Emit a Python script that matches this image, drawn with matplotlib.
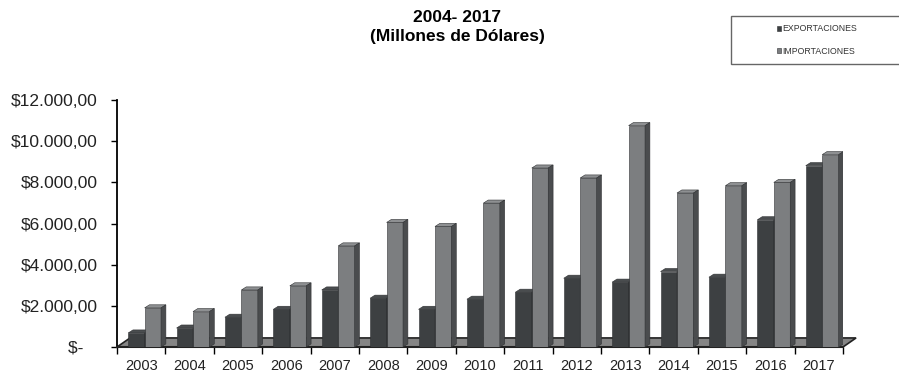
import matplotlib.pyplot as plt
from matplotlib.patches import Polygon, Rectangle

plt.rcParams["font.family"] = ["Liberation Sans", "DejaVu Sans"]

years = ["2003", "2004", "2005", "2006", "2007", "2008", "2009", "2010",
         "2011", "2012", "2013", "2014", "2015", "2016", "2017"]
exportaciones = [680, 920, 1445, 1830, 2770, 2370, 1830, 2320,
                 2660, 3340, 3150, 3665, 3390, 6180, 8810]
importaciones = [1900, 1720, 2770, 2970, 4910, 6050, 5855, 6990,
                 8695, 8210, 10755, 7480, 7835, 7995, 9345]
yticks = [0, 2000, 4000, 6000, 8000, 10000, 12000]
ytick_labels = ["$-   ", "$2.000,00", "$4.000,00", "$6.000,00",
                "$8.000,00", "$10.000,00", "$12.000,00"]

# style of the fake 3d effect
BAR_W = 0.34
DX, DY = 0.10, 150          # bar depth (category units, value units)
FLOOR_DX, FLOOR_DY = 0.27, 440
series = [
    (exportaciones, 0.23, "#3d4042", "#4a4d4f", "#2a2c2e", "EXPORTACIONES"),
    (importaciones, 0.57, "#7c7e80", "#8e9092", "#4a4c4e", "IMPORTACIONES"),
]

fig = plt.figure(figsize=(8.99, 3.73), dpi=100)
ax = fig.add_axes([117 / 899, 26 / 373, 726 / 899, 247 / 373])

n = len(years)
ax.set_xlim(-0.5, n - 0.5)
ax.set_ylim(0, 12000)

# floor
floor = Polygon([(-0.5, 0), (n - 0.5, 0), (n - 0.5 + FLOOR_DX, FLOOR_DY),
                 (-0.5 + FLOOR_DX, FLOOR_DY)], closed=True,
                facecolor="#858585", edgecolor="#222222", lw=1.2,
                zorder=1, clip_on=False)
ax.add_patch(floor)

handles = []
for i in range(n):
    for vals, off, front, top, side, name in series:
        x = i - 0.5 + off
        h = vals[i]
        b = ax.bar(x, h, width=BAR_W, align="edge", color=front,
                   edgecolor="#2f3133", lw=0.4, zorder=3 + i)
        ax.add_patch(Polygon([(x, h), (x + BAR_W, h), (x + BAR_W + DX, h + DY),
                              (x + DX, h + DY)], closed=True, facecolor=top,
                             edgecolor="#2f3133", lw=0.4, zorder=3 + i))
        ax.add_patch(Polygon([(x + BAR_W, 0), (x + BAR_W + DX, DY),
                              (x + BAR_W + DX, h + DY), (x + BAR_W, h)],
                             closed=True, facecolor=side, edgecolor="#2f3133",
                             lw=0.4, zorder=3 + i))
        if i == 0:
            handles.append((b, name))

for s in ["top", "right"]:
    ax.spines[s].set_visible(False)
ax.spines["left"].set_linewidth(1.3)
ax.spines["bottom"].set_linewidth(1.5)
ax.spines["bottom"].set_color("#222222")

ax.set_yticks(yticks)
ax.set_yticklabels(ytick_labels, fontsize=12.5, color="#222222")
ax.tick_params(axis="y", length=4, width=1, pad=10)
ax.set_xticks(range(n))
ax.set_xticklabels(years, fontsize=10.5, color="#222222")
ax.set_xticks([i - 0.5 for i in range(n + 1)], minor=True)
ax.tick_params(axis="x", which="major", length=0, pad=9)
ax.tick_params(axis="x", which="minor", length=5, width=1)

fig.text(457 / 899, 1 - 18 / 373, "2004- 2017", ha="center", va="center",
         fontsize=12.5, fontweight="bold")
fig.text(457 / 899, 1 - 37 / 373, "(Millones de Dólares)", ha="center",
         va="center", fontsize=12.5, fontweight="bold")

# legend
fig.add_artist(Rectangle((731 / 899, 1 - 64 / 373), 170 / 899, 48 / 373,
                         transform=fig.transFigure, facecolor="white",
                         edgecolor="#666666", lw=1))
leg = fig.legend([h[0] for h in handles], [h[1] for h in handles],
                 loc="center", bbox_to_anchor=(817 / 899, 1 - 40 / 373),
                 frameon=False, fontsize=6.3, handlelength=0.5,
                 handleheight=0.5, handletextpad=0.15, labelspacing=1.5)
for t in leg.get_texts():
    t.set_color("#333333")

fig.savefig("out.png", dpi=100, facecolor="white")
